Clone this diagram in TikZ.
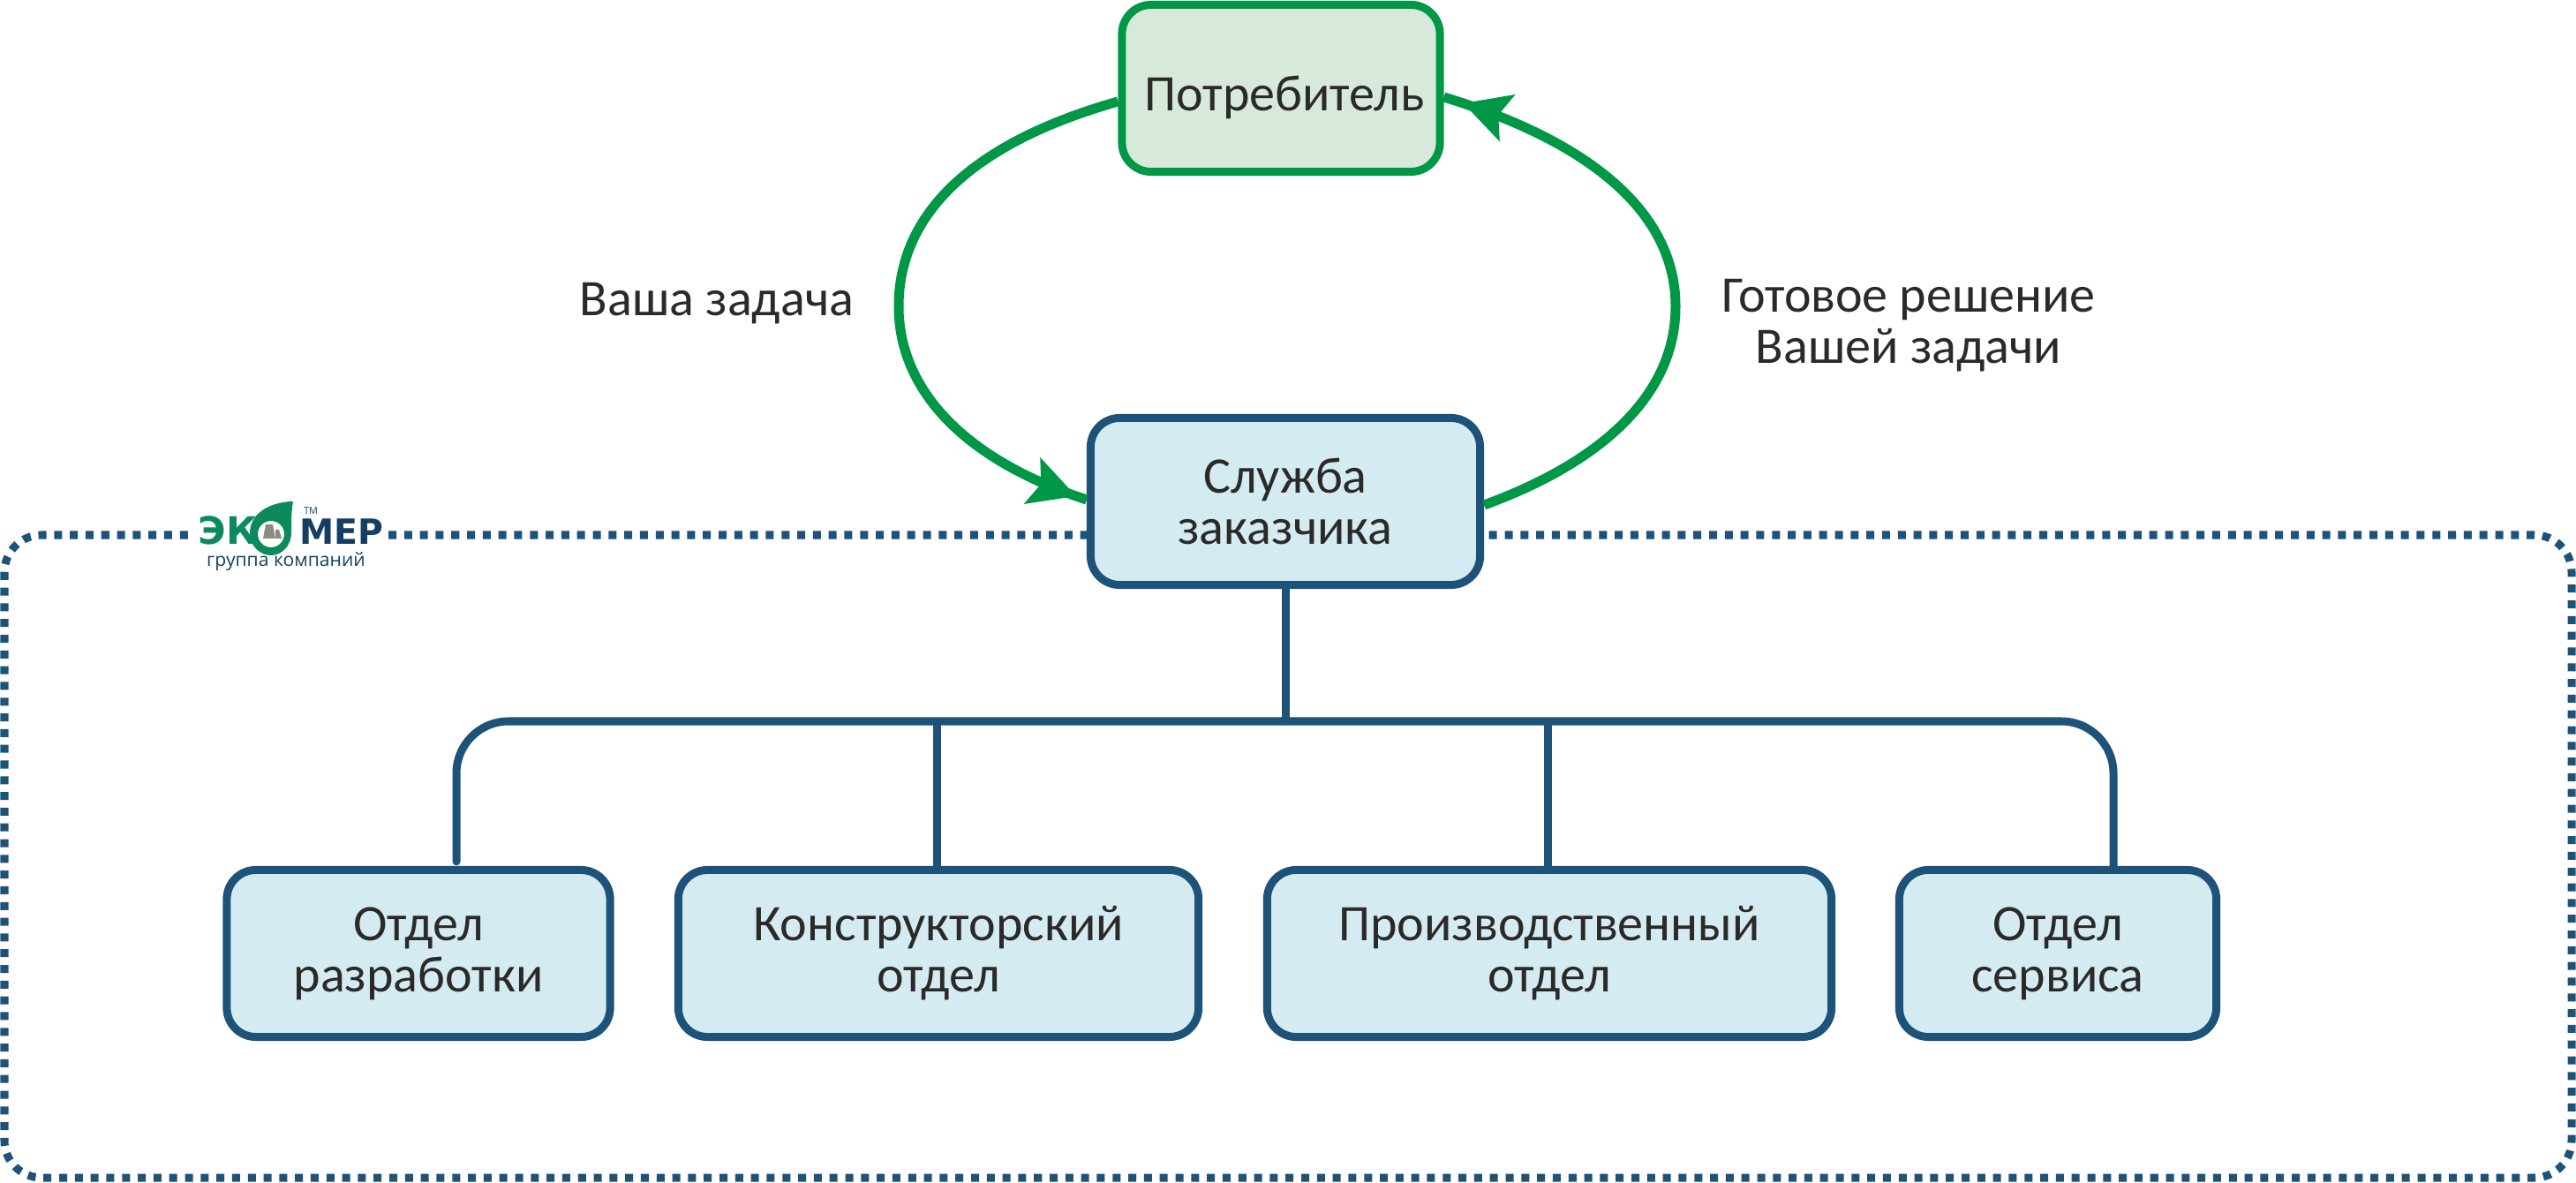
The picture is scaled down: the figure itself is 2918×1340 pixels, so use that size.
\documentclass[tikz,border=0pt]{standalone}
\usepackage{fontspec}
\setmainfont{Carlito}
\newfontfamily\logofont{DejaVu Sans}
\newfontfamily\logosmall{Open Sans}
\usetikzlibrary{arrows.meta,decorations.markings}
\definecolor{leafgreen}{HTML}{009846}
\definecolor{leafpale}{HTML}{D6E9DA}
\definecolor{deepblue}{HTML}{1D5279}
\definecolor{paleblue}{HTML}{D4ECF1}
\definecolor{inktext}{HTML}{2B2A29}
\definecolor{logogreen}{HTML}{0B8A5C}
\definecolor{logoblue}{HTML}{143F63}
\definecolor{logogray}{HTML}{8C8C7E}
\tikzset{
  orgbox/.style={draw=deepblue, fill=paleblue, line width=0.09cm, rounded corners=0.33cm,
    minimum height=1.89cm, align=center, text=inktext, font=\fontsize{16.5}{16.5}\selectfont},
  topbox/.style={orgbox, draw=leafgreen, fill=leafpale},
  treeline/.style={draw=deepblue, line width=0.09cm, line cap=round},
  framedots/.style={draw=deepblue, line width=0.09cm, rounded corners=0.42cm,
    dash pattern=on 0.09cm off 0.088cm},
  loopline/.style={draw=leafgreen, line width=0.11cm, postaction={decorate},
    decoration={markings, mark=at position #1 with {\arrow[leafgreen]{Stealth[length=0.52cm,width=0.54cm,inset=0.1cm]}}}},
  sidetext/.style={align=center, text=inktext, font=\fontsize{16.5}{16.5}\selectfont}
}
\begin{document}
\begin{tikzpicture}[x=0.01cm,y=-0.01cm]
  \useasboundingbox (0,0) rectangle (2918,1340);
  % Drawing the dotted frame, open at the logo
  \coordinate (frameA) at (440,606);
  \coordinate (frameB) at (218,606);
  \draw [framedots] (frameA) -- (2913,606) -- (2913,1334) -- (5,1334) -- (5,606) -- (frameB);
  % Drawing the boxes
  \node [topbox, minimum width=3.60cm, text height=0.6cm] (consumer) at (1451,100) {\hspace*{0.08cm}Потребитель};
  \node [orgbox, minimum width=4.41cm] (service) at (1456,568) {Служба\\заказчика};
  \node [orgbox, minimum width=4.34cm] (dev) at (474,1080) {Отдел\\разработки};
  \node [orgbox, minimum width=5.89cm] (design) at (1063,1080) {Конструкторский\\отдел};
  \node [orgbox, minimum width=6.39cm] (prod) at (1755,1080) {Производственный\\отдел};
  \node [orgbox, minimum width=3.59cm] (care) at (2331,1080) {Отдел\\сервиса};
  % Drawing the loop between the two upper boxes
  \draw [loopline=0.982] ([yshift=-0.15cm]consumer.west) .. controls (1090,165) and (1018,250) .. (1018,347)
    .. controls (1018,440) and (1090,520) .. ([yshift=0.02cm]service.west);
  \draw [loopline=0.968] ([yshift=-0.04cm]service.east) .. controls (1810,525) and (1898,450) .. (1898,347)
    .. controls (1898,240) and (1800,160) .. ([yshift=-0.1cm]consumer.east);
  % Drawing the tree below the service box
  \coordinate (barL) at (517,817);
  \coordinate (barR) at (2394,817);
  \draw [treeline, rounded corners=0.59cm] ([yshift=0.05cm]dev.north -| barL) -- (barL) -- (barR) -- (care.north -| barR);
  \draw [treeline] (service.south) -- (service.south |- barL);
  \draw [treeline] ([xshift=-0.02cm]design.north) -- ([xshift=-0.02cm]design.north |- barL);
  \draw [treeline] ([xshift=-0.02cm]prod.north) -- ([xshift=-0.02cm]prod.north |- barL);
  % Drawing the side labels
  \node [sidetext] (ask) at (812,344) {Ваша задача};
  \node [sidetext] (answer) at (2162,369) {Готовое решение\\Вашей задачи};
  % Drawing the logo
  \fill [logogreen, even odd rule] (332,568) .. controls (312,568) and (283,578) .. (283,604)
    .. controls (283,618) and (294,629) .. (307,629) .. controls (320,629) and (330,617) .. (330,604)
    .. controls (330,590) and (330,580) .. (332,568) -- cycle (307,605) circle [radius=15];
  \fill [logogray] (298,610) -- (301,594) -- (309,594) -- (312,610) -- cycle;
  \fill [logogray] (312,610) -- (312,600) -- (316,600) -- (319,610) -- cycle;
  \node [inner sep=0, anchor=base west, text=logogreen, font=\fontsize{12.2}{12}\logofont\bfseries] (logoA) at (224,617) {ЭК};
  \node [inner sep=0, anchor=base west, text=logoblue, font=\fontsize{11.2}{12}\logofont\bfseries] (logoB) at (339,617) {МЕР};
  \node [inner sep=0, text=logoblue, font=\fontsize{3.1}{4}\logosmall] (logoC) at (352,579) {ТМ};
  \node [inner sep=0, anchor=base, text=logoblue, font=\fontsize{6}{7}\logosmall] (logoD) at (324,642) {группа компаний};
\end{tikzpicture}
\end{document}
